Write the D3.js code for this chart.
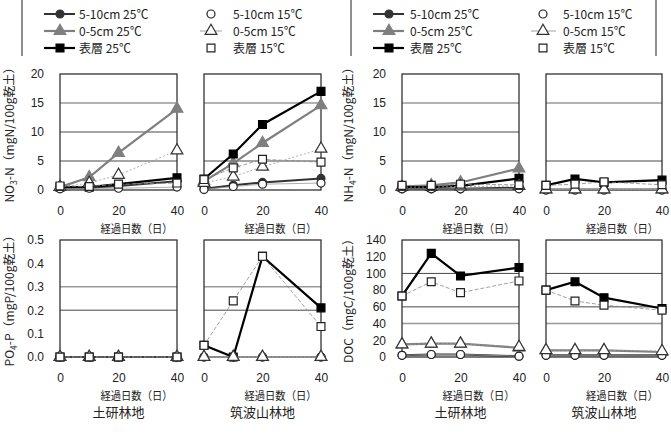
<!DOCTYPE html>
<html><head><meta charset="utf-8">
<script src="https://cdn.jsdelivr.net/npm/d3@7"></script>
<style>body{margin:0;background:#fff}</style>
</head><body><div id="chart"></div>
<script>
// DATA
var days = [0, 10, 20, 40]
var dayTicks = [0, 20, 40]
var seriesNames = ['5-10cm 25℃', '5-10cm 15℃', '0-5cm 25℃', '0-5cm 15℃', '表層 25℃', '表層 15℃']
var siteNames = ['土研林地', '筑波山林地']
var xTitle = '経過日数（日）'

// one row per series, same order as seriesNames
var no3Doken = [
  [0.3, 0.4, 0.7, 1.5],
  [0.2, 0.3, 0.3, 0.5],
  [0.5, 2.2, 6.4, 14.0],
  [0.5, 1.2, 2.6, 6.8],
  [0.5, 0.5, 1.0, 2.1],
  [0.7, 0.6, 1.0, 1.2]
]
var no3Tsukuba = [
  [0.2, 0.8, 1.3, 2.0],
  [0.1, 0.6, 1.0, 1.2],
  [1.5, 4.6, 8.1, 14.6],
  [1.2, 2.3, 4.0, 7.1],
  [1.9, 6.2, 11.3, 17.0],
  [1.8, 3.8, 5.3, 4.8]
]
var nh4Doken = [
  [0.2, 0.2, 0.2, 0.4],
  [0.2, 0.2, 0.2, 0.2],
  [0.6, 0.8, 1.3, 3.7],
  [0.5, 0.5, 0.6, 0.7],
  [0.5, 0.5, 0.7, 2.0],
  [0.8, 0.8, 1.0, 0.9]
]
var nh4Tsukuba = [
  [0.0, 0.0, 0.0, 0.0],
  [0.0, 0.0, 0.0, 0.0],
  [0.1, 0.1, 0.1, 0.1],
  [0.1, 0.1, 0.1, 0.1],
  [0.8, 1.9, 1.3, 1.7],
  [0.8, 1.0, 1.4, 0.9]
]
var po4Doken = [
  [0, 0, 0, 0],
  [0, 0, 0, 0],
  [0, 0, 0, 0],
  [0, 0, 0, 0],
  [0, 0, 0, 0],
  [0, 0, 0, 0]
]
var po4Tsukuba = [
  [0, 0, 0, 0],
  [0, 0, 0, 0],
  [0, 0, 0, 0],
  [0, 0, 0, 0],
  [0.05, 0.0, 0.43, 0.21],
  [0.05, 0.24, 0.43, 0.13]
]
var docDoken = [
  [2, 3, 3, 1],
  [2, 3, 3, 1],
  [15, 16, 16, 11],
  [15, 16, 16, 12],
  [73, 124, 97, 107],
  [73, 90, 77, 91]
]
var docTsukuba = [
  [2, 2, 2, 2],
  [2, 2, 2, 2],
  [8, 8, 8, 6],
  [8, 8, 8, 7],
  [80, 90, 71, 58],
  [80, 67, 62, 56]
]

// LAYOUT
var width = 671, height = 436
var svg = d3.select('#chart').append('svg')
  .attr('width', width)
  .attr('height', height)

var cols = [[60, 177], [204, 321], [402, 519], [546, 662]]
var rows = [[74, 190], [240, 357]]
var latin = 'Liberation Sans, Arial, sans-serif'
var cjk = 'Noto Sans CJK JP, sans-serif'

var styles = [
  {shape: d3.symbolCircle, size: 50, fill: '#333', stroke: '#333', line: '#333', lw: 2},
  {shape: d3.symbolCircle, size: 50, fill: '#fff', stroke: '#222', line: '#999', lw: 0.8},
  {shape: d3.symbolTriangle, size: 60, fill: '#7f7f7f', stroke: '#7f7f7f', line: '#7f7f7f', lw: 2.2},
  {shape: d3.symbolTriangle, size: 60, fill: '#fff', stroke: '#333', line: '#999', lw: 0.8, dash: '2,2'},
  {shape: d3.symbolSquare, size: 62, fill: '#000', stroke: '#000', line: '#000', lw: 2.2},
  {shape: d3.symbolSquare, size: 62, fill: '#fff', stroke: '#222', line: '#888', lw: 0.8, dash: '4,2'}
]
var drawOrder = [0, 2, 4, 1, 3, 5]

var greyGrid = '#999', darkGrid = '#333'
var panels = [
  {data: no3Doken, col: 0, row: 0, max: 20, ticks: [0, 5, 10, 15, 20], fmt: d3.format('d'),
   grid: [[15, greyGrid], [10, darkGrid], [5, darkGrid]]},
  {data: no3Tsukuba, col: 1, row: 0, max: 20, grid: [[15, greyGrid], [5, darkGrid]]},
  {data: nh4Doken, col: 2, row: 0, max: 20, ticks: [0, 5, 10, 15, 20], fmt: d3.format('d'),
   grid: [[15, greyGrid], [10, darkGrid], [5, darkGrid]]},
  {data: nh4Tsukuba, col: 3, row: 0, max: 20, grid: [[15, greyGrid], [5, darkGrid]]},
  {data: po4Doken, col: 0, row: 1, max: 0.5, ticks: [0, 0.1, 0.2, 0.3, 0.4, 0.5], fmt: d3.format('.1f'),
   grid: [[0.3, greyGrid], [0.2, darkGrid]], site: 0},
  {data: po4Tsukuba, col: 1, row: 1, max: 0.5, grid: [[0.3, greyGrid], [0.2, darkGrid]], site: 1},
  {data: docDoken, col: 2, row: 1, max: 140, ticks: d3.range(0, 141, 20), fmt: d3.format('d'),
   grid: [[100, darkGrid], [60, darkGrid], [40, greyGrid]], site: 0},
  {data: docTsukuba, col: 3, row: 1, max: 140, grid: [[100, darkGrid], [60, darkGrid], [40, greyGrid]], site: 1}
]

var yTitles = [
  {x: 14, y: 132, main: 'NO', sub: '3', rest: '-N（mgN/100g乾土）'},
  {x: 353, y: 132, main: 'NH', sub: '4', rest: '-N（mgN/100g乾土）'},
  {x: 14, y: 298, main: 'PO', sub: '4', rest: '-P（mgP/100g乾土）'},
  {x: 353, y: 298, main: 'DOC', sub: '', rest: '（mgC/100g乾土）'}
]

// HELPERS
function drawMarker(g, st, x, y) {
  g.append('path')
    .attr('d', d3.symbol().type(st.shape).size(st.size)())
    .attr('transform', 'translate(' + [x, y] + ')')
    .style('fill', st.fill)
    .style('stroke', st.stroke)
    .style('stroke-width', 1.2)
}

// PANELS
panels.forEach(function(p) {
  var c = cols[p.col], r = rows[p.row]
  var xMap = d3.scaleLinear().domain([0, 40]).range(c)
  var yMap = d3.scaleLinear().domain([0, p.max]).range([r[1], r[0]])
  var g = svg.append('g')

  p.grid.forEach(function(gl) {
    g.append('line')
      .attr('x1', c[0]).attr('x2', c[1])
      .attr('y1', yMap(gl[0])).attr('y2', yMap(gl[0]))
      .style('stroke', gl[1])
      .style('stroke-width', gl[1] == greyGrid ? 1.6 : 0.9)
  })

  g.append('rect')
    .attr('x', c[0]).attr('y', r[0])
    .attr('width', c[1] - c[0]).attr('height', r[1] - r[0])
    .style('fill', 'none')
    .style('stroke', '#222')
    .style('stroke-width', 1.2)

  if (p.ticks) {
    var yAxis = d3.axisLeft(yMap).tickValues(p.ticks).tickFormat(p.fmt).tickSize(0).tickPadding(16)
    var gy = g.append('g').attr('transform', 'translate(' + [c[0], 0] + ')').call(yAxis)
    gy.select('.domain').remove()
    gy.selectAll('text').style('font-family', latin).style('font-size', '12px').style('fill', '#222')
  }

  var xAxis = d3.axisBottom(xMap).tickValues(dayTicks).tickFormat(d3.format('d')).tickSize(0).tickPadding(16)
  var gx = g.append('g').attr('transform', 'translate(' + [0, r[1]] + ')').call(xAxis)
  gx.select('.domain').remove()
  gx.selectAll('text').style('font-family', latin).style('font-size', '12px').style('fill', '#222')

  g.append('text')
    .attr('x', (c[0] + c[1]) / 2 + 18)
    .attr('y', r[1] + 43)
    .attr('text-anchor', 'middle')
    .attr('textLength', 72)
    .attr('lengthAdjust', 'spacingAndGlyphs')
    .style('font-family', cjk).style('font-size', '11.5px').style('fill', '#222')
    .text(xTitle)

  if (p.site != null) {
    g.append('text')
      .attr('x', (c[0] + c[1]) / 2)
      .attr('y', r[1] + 60)
      .attr('text-anchor', 'middle')
      .style('font-family', cjk).style('font-size', '13px').style('fill', '#222')
      .text(siteNames[p.site])
  }

  var line = d3.line().x(function(d, i) { return xMap(days[i]) }).y(function(d) { return yMap(d) })
  drawOrder.forEach(function(si) {
    var st = styles[si]
    g.append('path')
      .attr('d', line(p.data[si]))
      .style('fill', 'none')
      .style('stroke', st.line)
      .style('stroke-width', st.lw)
      .style('stroke-dasharray', st.dash || null)
    p.data[si].forEach(function(v, i) {
      drawMarker(g, st, xMap(days[i]), yMap(v))
    })
  })
})

// Y TITLES
yTitles.forEach(function(t) {
  var txt = svg.append('text')
    .attr('transform', 'translate(' + [t.x, t.y] + ') rotate(-90)')
    .attr('text-anchor', 'middle')
    .style('font-family', cjk).style('font-size', '12px').style('fill', '#222')
  txt.append('tspan').text(t.main)
  if (t.sub) txt.append('tspan').attr('dy', 3).style('font-size', '8.5px').text(t.sub)
  txt.append('tspan').attr('dy', t.sub ? -3 : 0).text(t.rest)
})

// LEGENDS
var legendSets = [
  {left: 22, right: null, lineX: [44, 75], markX: 60, textX: 79, col2Mark: 211, col2Line: [200, 222], col2Text: 233},
  {left: 351, right: 656, lineX: [373, 404], markX: 389, textX: 410, col2Mark: 543, col2Line: [531, 556], col2Text: 563}
]
var legendRows = [14, 31, 48]

legendSets.forEach(function(L) {
  var g = svg.append('g')
  g.append('line').attr('x1', L.left).attr('x2', L.left).attr('y1', 0).attr('y2', 56)
    .style('stroke', '#444').style('stroke-width', 1.2)
  if (L.right) {
    g.append('line').attr('x1', L.right).attr('x2', L.right).attr('y1', 0).attr('y2', 56)
      .style('stroke', '#444').style('stroke-width', 1.2)
  }
  legendRows.forEach(function(y, ri) {
    // 25℃ column
    var s25 = styles[ri * 2]
    g.append('line').attr('x1', L.lineX[0]).attr('x2', L.lineX[1]).attr('y1', y).attr('y2', y)
      .style('stroke', s25.line).style('stroke-width', s25.lw)
    drawMarker(g, s25, L.markX, y)
    g.append('text').attr('x', L.textX).attr('y', y + 4.5)
      .style('font-family', cjk).style('font-size', '12px').style('fill', '#222')
      .text(seriesNames[ri * 2])
    // 15℃ column
    var s15 = styles[ri * 2 + 1]
    if (ri == 1) {
      g.append('line').attr('x1', L.col2Line[0]).attr('x2', L.col2Line[1]).attr('y1', y).attr('y2', y)
        .style('stroke', '#888').style('stroke-width', 0.8)
    }
    drawMarker(g, s15, L.col2Mark, y)
    g.append('text').attr('x', L.col2Text).attr('y', y + 4.5)
      .style('font-family', cjk).style('font-size', '12px').style('fill', '#222')
      .text(seriesNames[ri * 2 + 1])
  })
})
</script>
</body></html>
